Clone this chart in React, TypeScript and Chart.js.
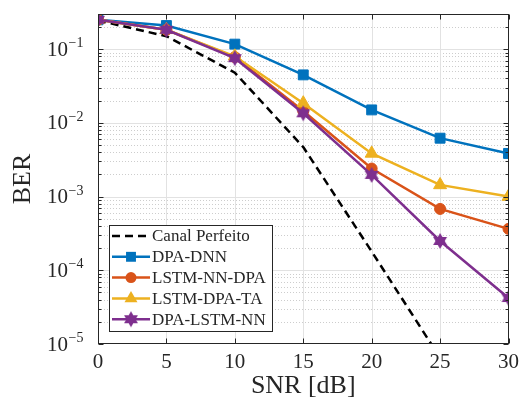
import React, { useEffect, useRef } from 'react';
import { Chart, registerables } from 'chart.js';
Chart.register(...registerables);

const snr = [0, 5, 10, 15, 20, 25, 30];
const canalPerfeito = [0.245, 0.15, 0.048, 0.0047, 0.00018, 0.0000065, null];
const dpaDnn = [0.25, 0.209, 0.117, 0.0448, 0.015, 0.0062, 0.00385];
const lstmNnDpa = [0.25, 0.183, 0.078, 0.0145, 0.0024, 0.00068, 0.000365];
const lstmDpaTa = [0.25, 0.183, 0.08, 0.0185, 0.00385, 0.00144, 0.001];
const dpaLstmNn = [0.25, 0.183, 0.0755, 0.0135, 0.00197, 0.00025, 0.000042];
const seriesNames = ['Canal Perfeito', 'DPA-DNN', 'LSTM-NN-DPA', 'LSTM-DPA-TA', 'DPA-LSTM-NN'];
const xTicks = [0, 5, 10, 15, 20, 25, 30];
const yDecades = [-5, -4, -3, -2, -1];
const yMin = 1e-5;
const yMax = 0.3;

const FONT = '"Liberation Serif", "DejaVu Serif", serif';
const INK = '#262626';
const BLUE = '#0072BD';
const ORANGE = '#D95319';
const YELLOW = '#EDB120';
const PURPLE = '#7E2F8E';

function makeHexagram(color: string, r: number) {
  const size = Math.ceil(r) * 2 + 2;
  const c = document.createElement('canvas');
  c.width = size; c.height = size;
  const g = c.getContext('2d')!;
  const cx = size / 2, cy = size / 2;
  g.fillStyle = color;
  for (const start of [-90, 90]) {
    g.beginPath();
    for (let k = 0; k < 3; k++) {
      const ang = ((start + k * 120) * Math.PI) / 180;
      const px = cx + r * Math.cos(ang), py = cy + r * Math.sin(ang);
      if (k === 0) g.moveTo(px, py); else g.lineTo(px, py);
    }
    g.closePath();
    g.fill();
  }
  return c;
}

function drawMarker(ctx: CanvasRenderingContext2D, kind: string, x: number, y: number, color: string, star?: HTMLCanvasElement) {
  ctx.save();
  ctx.fillStyle = color;
  ctx.strokeStyle = color;
  ctx.lineWidth = 1;
  ctx.setLineDash([]);
  if (kind === 'rect') {
    const s = 7 * Math.SQRT1_2;
    ctx.fillRect(x - s, y - s, 2 * s, 2 * s);
  } else if (kind === 'circle') {
    ctx.beginPath(); ctx.arc(x, y, 5.5, 0, Math.PI * 2); ctx.fill();
  } else if (kind === 'triangle') {
    const r = 7.5;
    ctx.beginPath();
    for (let k = 0; k < 3; k++) {
      const ang = ((-90 + k * 120) * Math.PI) / 180;
      const px = x + r * Math.cos(ang), py = y + r * Math.sin(ang);
      if (k === 0) ctx.moveTo(px, py); else ctx.lineTo(px, py);
    }
    ctx.closePath(); ctx.fill();
  } else if (kind === 'star' && star) {
    ctx.drawImage(star, x - star.width / 2, y - star.height / 2);
  }
  ctx.restore();
}

export default function App() {
  const ref = useRef<HTMLCanvasElement | null>(null);
  useEffect(() => {
    if (!ref.current) return;
    const star = makeHexagram(PURPLE, 8);
    const toPts = (arr: (number | null)[]) => snr.map((x, i) => ({ x, y: arr[i] }));
    const legendItems = [
      { name: seriesNames[0], color: '#000000', dash: [8, 5], marker: '' },
      { name: seriesNames[1], color: BLUE, dash: [], marker: 'rect' },
      { name: seriesNames[2], color: ORANGE, dash: [], marker: 'circle' },
      { name: seriesNames[3], color: YELLOW, dash: [], marker: 'triangle' },
      { name: seriesNames[4], color: PURPLE, dash: [], marker: 'star' },
    ];

    const decor = {
      id: 'decor',
      beforeDatasetsDraw(chart: any) {
        const { ctx, chartArea: a, scales } = chart;
        const ys = scales.y, xs = scales.x;
        ctx.save();
        ctx.lineWidth = 1;
        ctx.strokeStyle = '#cdcdcd';
        ctx.setLineDash([1, 2]);
        for (const e of yDecades) {
          for (let m = 2; m <= 9; m++) {
            const v = m * Math.pow(10, e);
            if (v > yMax + 1e-12) break;
            const y = Math.round(ys.getPixelForValue(v)) + 0.5;
            ctx.beginPath(); ctx.moveTo(a.left, y); ctx.lineTo(a.right, y); ctx.stroke();
          }
        }
        ctx.setLineDash([]);
        ctx.strokeStyle = '#e2e2e2';
        for (const e of yDecades) {
          const y = Math.round(ys.getPixelForValue(Math.pow(10, e))) + 0.5;
          if (y > a.bottom - 1) continue;
          ctx.beginPath(); ctx.moveTo(a.left, y); ctx.lineTo(a.right, y); ctx.stroke();
        }
        for (const t of xTicks) {
          const x = Math.round(xs.getPixelForValue(t)) + 0.5;
          if (x < a.left + 1 || x > a.right - 1) continue;
          ctx.beginPath(); ctx.moveTo(x, a.top); ctx.lineTo(x, a.bottom); ctx.stroke();
        }
        ctx.restore();
      },
      afterDatasetsDraw(chart: any) {
        const { ctx, chartArea: a, scales } = chart;
        const ys = scales.y, xs = scales.x;
        ctx.save();
        ctx.strokeStyle = INK;
        ctx.lineWidth = 1;
        ctx.setLineDash([]);
        const L = Math.round(a.left) + 0.5, R = Math.round(a.right) - 0.5;
        const T = Math.round(a.top) + 0.5, B = Math.round(a.bottom) - 0.5;
        ctx.strokeRect(L, T, R - L, B - T);
        // x tick marks
        for (const t of xTicks) {
          const x = Math.round(xs.getPixelForValue(t)) + 0.5;
          ctx.beginPath();
          ctx.moveTo(x, B); ctx.lineTo(x, B - 5);
          ctx.moveTo(x, T); ctx.lineTo(x, T + 5);
          ctx.stroke();
        }
        // y tick marks
        for (const e of yDecades) {
          for (let m = 1; m <= 9; m++) {
            const v = m * Math.pow(10, e);
            if (v > yMax + 1e-12) break;
            const y = Math.round(ys.getPixelForValue(v)) + 0.5;
            const len = m === 1 ? 5 : 3;
            ctx.beginPath();
            ctx.moveTo(L, y); ctx.lineTo(L + len, y);
            ctx.moveTo(R, y); ctx.lineTo(R - len, y);
            ctx.stroke();
          }
        }
        // y tick labels
        ctx.fillStyle = INK;
        for (const e of yDecades) {
          const y = ys.getPixelForValue(Math.pow(10, e));
          ctx.font = `21px ${FONT}`;
          ctx.textAlign = 'right';
          ctx.textBaseline = 'middle';
          ctx.fillText('10', 68, y + 1);
          ctx.font = `14px ${FONT}`;
          ctx.textAlign = 'left';
          ctx.textBaseline = 'alphabetic';
          ctx.fillText('\u2212' + String(-e), 68.5, y - 2);
        }
        // y title
        ctx.save();
        ctx.translate(23, (a.top + a.bottom) / 2);
        ctx.rotate(-Math.PI / 2);
        ctx.font = `26px ${FONT}`;
        ctx.textAlign = 'center';
        ctx.textBaseline = 'middle';
        ctx.fillText('BER', 0, 0);
        ctx.restore();

        // legend
        const lx = Math.round(a.left) + 11, lw = 163, lh = 106;
        const ly = Math.round(a.bottom) - 13 - lh;
        ctx.fillStyle = '#ffffff';
        ctx.fillRect(lx, ly, lw, lh);
        ctx.strokeStyle = INK;
        ctx.lineWidth = 1;
        ctx.strokeRect(lx + 0.5, ly + 0.5, lw, lh);
        legendItems.forEach((it, i) => {
          const cy = ly + 11 + i * 20.8;
          ctx.save();
          ctx.strokeStyle = it.color;
          ctx.lineWidth = 2.5;
          ctx.setLineDash(it.dash);
          ctx.beginPath(); ctx.moveTo(lx + 3, cy); ctx.lineTo(lx + 41, cy); ctx.stroke();
          ctx.restore();
          if (it.marker) drawMarker(ctx, it.marker, lx + 22, cy, it.color, star);
          ctx.fillStyle = INK;
          ctx.font = `17px ${FONT}`;
          ctx.textAlign = 'left';
          ctx.textBaseline = 'middle';
          ctx.fillText(it.name, lx + 43, cy + 1);
        });
        ctx.restore();
      },
    };

    const common = { borderWidth: 2.5, pointBorderWidth: 1, fill: false, tension: 0 };
    const chart = new Chart(ref.current, {
      type: 'line',
      data: {
        datasets: [
          { ...common, label: seriesNames[0], data: toPts(canalPerfeito), borderColor: '#000000', borderDash: [8, 5], pointRadius: 0, order: 5 },
          { ...common, label: seriesNames[1], data: toPts(dpaDnn), borderColor: BLUE, backgroundColor: BLUE, pointBackgroundColor: BLUE, pointBorderColor: BLUE, pointStyle: 'rect', pointRadius: 7, order: 4 },
          { ...common, label: seriesNames[2], data: toPts(lstmNnDpa), borderColor: ORANGE, backgroundColor: ORANGE, pointBackgroundColor: ORANGE, pointBorderColor: ORANGE, pointStyle: 'circle', pointRadius: 5.5, order: 3 },
          { ...common, label: seriesNames[3], data: toPts(lstmDpaTa), borderColor: YELLOW, backgroundColor: YELLOW, pointBackgroundColor: YELLOW, pointBorderColor: YELLOW, pointStyle: 'triangle', pointRadius: 7.5, order: 2 },
          { ...common, label: seriesNames[4], data: toPts(dpaLstmNn), borderColor: PURPLE, backgroundColor: PURPLE, pointBackgroundColor: PURPLE, pointBorderColor: PURPLE, pointStyle: star as any, pointRadius: 8, order: 1 },
        ] as any,
      },
      options: {
        animation: false,
        responsive: false,
        maintainAspectRatio: false,
        devicePixelRatio: 1,
        layout: { padding: { top: 14, right: 13, left: 0, bottom: 0 } },
        plugins: { legend: { display: false }, tooltip: { enabled: false }, title: { display: false } },
        scales: {
          x: {
            type: 'linear',
            min: 0,
            max: 30,
            afterBuildTicks: (s: any) => { s.ticks = xTicks.map((v) => ({ value: v })); },
            afterFit: (s: any) => { s.height = 64; },
            grid: { display: false, drawTicks: false },
            border: { display: false },
            ticks: { color: INK, font: { family: FONT, size: 21 }, padding: 6, maxRotation: 0, autoSkip: false },
            title: { display: true, text: 'SNR [dB]', color: INK, font: { family: FONT, size: 26 }, padding: { top: 0, bottom: 6 } },
          },
          y: {
            type: 'logarithmic',
            min: yMin,
            max: yMax,
            afterFit: (s: any) => { s.width = 98; },
            grid: { display: false, drawTicks: false },
            border: { display: false },
            ticks: { display: false },
          },
        },
      } as any,
      plugins: [decor],
    });
    return () => chart.destroy();
  }, []);

  return (
    <div style={{ position: 'fixed', left: 0, top: 0, width: 525, height: 408, background: '#ffffff' }}>
      <canvas ref={ref} width={525} height={408} style={{ width: 525, height: 408, display: 'block' }} />
    </div>
  );
}
